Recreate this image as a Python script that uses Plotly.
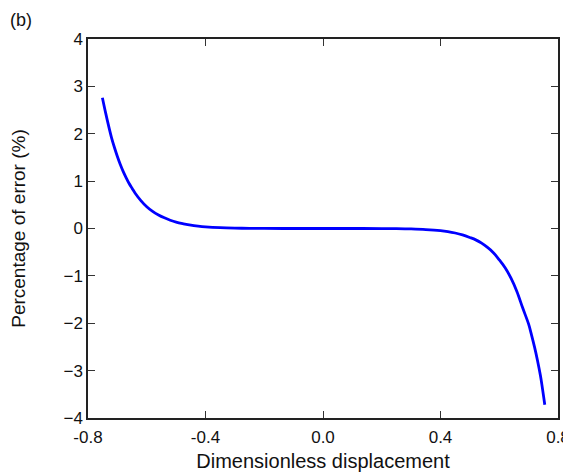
import plotly.graph_objects as go

# Data
x_disp = [-0.751, -0.74, -0.73, -0.72, -0.71, -0.70, -0.69, -0.68, -0.67, -0.66,
          -0.65, -0.64, -0.62, -0.60, -0.58, -0.56, -0.54, -0.52, -0.50, -0.475,
          -0.45, -0.425, -0.40, -0.35, -0.30, -0.25, -0.20, -0.10, 0.0, 0.10,
          0.20, 0.25, 0.30, 0.35, 0.40, 0.425, 0.45, 0.475, 0.50, 0.52,
          0.54, 0.56, 0.58, 0.60, 0.62, 0.64, 0.66, 0.68, 0.70, 0.71,
          0.72, 0.73, 0.74, 0.745, 0.755]
err_pct = [2.76, 2.44, 2.17, 1.92, 1.71, 1.52, 1.35, 1.20, 1.07, 0.95,
           0.85, 0.75, 0.59, 0.46, 0.36, 0.285, 0.225, 0.175, 0.135, 0.10,
           0.07, 0.05, 0.035, 0.017, 0.008, 0.003, 0.001, 0.0, 0.0, 0.0,
           -0.001, -0.004, -0.01, -0.022, -0.045, -0.065, -0.095, -0.135, -0.19, -0.24,
           -0.31, -0.40, -0.51, -0.66, -0.83, -1.05, -1.33, -1.68, -2.02, -2.25,
           -2.50, -2.78, -3.10, -3.29, -3.72]

x_ticks = [-0.8, -0.4, 0.0, 0.4, 0.8]
x_tick_labels = ["-0.8", "-0.4", "0.0", "0.4", "0.8"]
y_ticks = [-4, -3, -2, -1, 0, 1, 2, 3, 4]

font_family = "Liberation Sans, Arial, sans-serif"

fig = go.Figure()
fig.add_trace(go.Scatter(
    x=x_disp, y=err_pct, mode="lines",
    line=dict(color="#0000ff", width=2.8, shape="spline", smoothing=1.0),
    showlegend=False,
))

axis_common = dict(
    showgrid=False, zeroline=False, showline=True, linecolor="#222222", linewidth=1.5,
    mirror="ticks", ticks="inside", ticklen=7, tickwidth=1.3, tickcolor="#333333",
    tickfont=dict(family=font_family, size=17, color="#111111"),
)

fig.update_xaxes(
    range=[-0.8, 0.8], tickmode="array", tickvals=x_ticks, ticktext=x_tick_labels,
    ticklabelstandoff=3,
    title=dict(text="Dimensionless displacement", font=dict(family=font_family, size=20, color="#111111"), standoff=8),
    **axis_common,
)
fig.update_yaxes(
    range=[-4, 4], tickmode="array", tickvals=y_ticks,
    title=dict(text="Percentage of error (%)", font=dict(family=font_family, size=19, color="#111111"), standoff=39),
    **axis_common,
)

# page body has an 8px margin, so the figure is 8px smaller and margins shifted
plot_w = 571 - 8 - 80 - 13
plot_h = 475 - 8 - 31 - 57
fig.add_annotation(
    text="(b)", xref="paper", yref="paper", x=-80 / plot_w, y=1 + 31 / plot_h,
    xanchor="left", yanchor="top", showarrow=False,
    font=dict(family=font_family, size=18, color="#111111"),
)

fig.update_layout(
    width=563, height=467,
    margin=dict(l=80, r=13, t=31, b=57, autoexpand=False),
    paper_bgcolor="white", plot_bgcolor="white",
)

fig.write_html("out.html")
